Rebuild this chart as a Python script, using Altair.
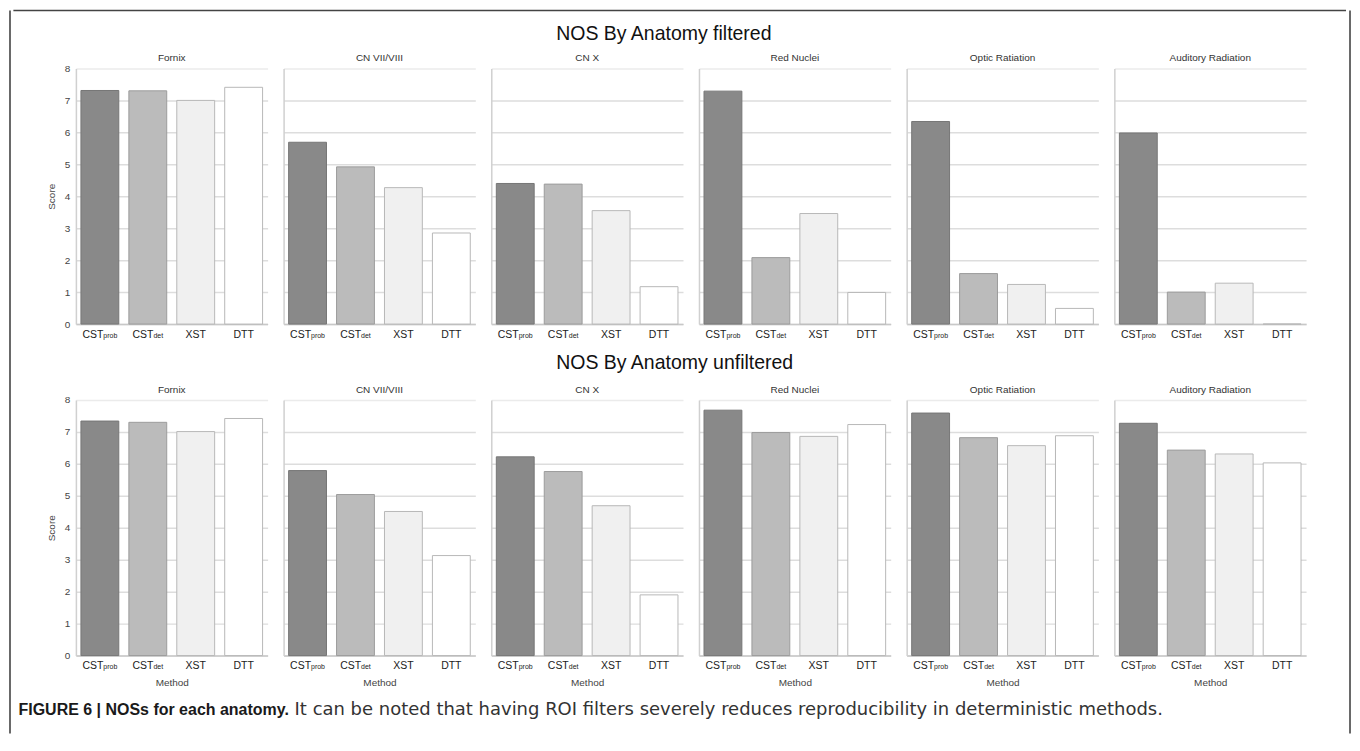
import altair as alt
import pandas as pd

# ---------------- data ----------------
anatomies = ["Fornix", "CN VII/VIII", "CN X", "Red Nuclei", "Optic Ratiation", "Auditory Radiation"]
methods = ["CSTprob", "CSTdet", "XST", "DTT"]
method_main = ["CST", "CST", "XST", "DTT"]
method_sub = ["prob", "det", "", ""]

filtered_cstprob = [7.31, 5.69, 4.40, 7.29, 6.34, 5.98]
filtered_cstdet = [7.30, 4.92, 4.38, 2.08, 1.58, 1.00]
filtered_xst = [7.00, 4.27, 3.55, 3.46, 1.24, 1.28]
filtered_dtt = [7.41, 2.85, 1.17, 0.99, 0.49, 0.00]

unfiltered_cstprob = [7.34, 5.79, 6.22, 7.68, 7.59, 7.27]
unfiltered_cstdet = [7.30, 5.04, 5.76, 6.98, 6.82, 6.43]
unfiltered_xst = [7.01, 4.51, 4.69, 6.86, 6.57, 6.31]
unfiltered_dtt = [7.42, 3.13, 1.90, 7.23, 6.88, 6.03]

conditions = ["filtered", "unfiltered"]
row_titles = ["NOS By Anatomy filtered", "NOS By Anatomy unfiltered"]
y_title = "Score"
x_title = "Method"
caption_bold = "FIGURE 6 | NOSs for each anatomy."
caption_text = "It can be noted that having ROI filters severely reduces reproducibility in deterministic methods."

series = {
    "filtered": [filtered_cstprob, filtered_cstdet, filtered_xst, filtered_dtt],
    "unfiltered": [unfiltered_cstprob, unfiltered_cstdet, unfiltered_xst, unfiltered_dtt],
}

rows = []
for cond in conditions:
    for mi, m in enumerate(methods):
        for ai, a in enumerate(anatomies):
            rows.append({"condition": cond, "anatomy": a, "method": m,
                         "main": method_main[mi], "sub": method_sub[mi],
                         "score": series[cond][mi][ai]})
df = pd.DataFrame(rows)
dummy = pd.DataFrame({"k": [0]})

# ---------------- style ----------------
FONT = "Liberation Sans"
fills = ["#898989", "#bbbbbb", "#f0f0f0", "#ffffff"]
strokes = ["#767676", "#9c9c9c", "#b8b8b8", "#b8b8b8"]
FRAME = "#444444"
PW, PH = 192, 256


def make_panel(cond, anat, first, bottom):
    base = alt.Chart(df).transform_filter(
        (alt.datum.condition == cond) & (alt.datum.anatomy == anat))

    xaxis = dict(labels=False, ticks=False, tickSize=0, domainColor="#c8c8c8",
                 domainWidth=1.5, grid=False)
    if bottom:
        xaxis.update(title=x_title, titlePadding=22, titleFontSize=10,
                     titleFontWeight="normal", titleColor="#444444", titleFont=FONT)
    else:
        xaxis.update(title=None)
    yaxis = dict(values=list(range(9)), ticks=False, tickSize=0,
                 domainColor="#d0d0d0", domainWidth=1.5,
                 gridColor=alt.condition("datum.value == 8", alt.value("#ebebeb"),
                                         alt.value("#dddddd")),
                 gridWidth=1.5, labels=first)
    if first:
        yaxis.update(title=y_title, titlePadding=8, labelPadding=6, labelFontSize=10,
                     labelColor="#444444", labelFont=FONT, titleFontSize=10,
                     titleFontWeight="normal", titleColor="#444444", titleFont=FONT)
    else:
        yaxis.update(title=None)

    xenc = alt.X("method:N", sort=methods,
                 scale=alt.Scale(domain=methods, paddingInner=0.21, paddingOuter=0.105),
                 axis=alt.Axis(**xaxis))
    yenc = alt.Y("score:Q", scale=alt.Scale(domain=[0, 8], nice=False),
                 axis=alt.Axis(**yaxis))

    bars = base.mark_bar(strokeWidth=1).encode(
        x=xenc, y=yenc,
        color=alt.Color("method:N", scale=alt.Scale(domain=methods, range=fills), legend=None),
        stroke=alt.Stroke("method:N", scale=alt.Scale(domain=methods, range=strokes), legend=None),
    )
    ylab = alt.value(PH + 13.5)
    common = dict(baseline="alphabetic", color="#222222", font=FONT)
    lab_plain = base.transform_filter(alt.datum.sub == "").mark_text(
        fontSize=10.5, align="center", **common).encode(x=xenc, y=ylab, text="main:N")
    layers = [bars, lab_plain]
    for m, d in (("CSTprob", 3.5), ("CSTdet", 5.6)):
        layers.append(base.transform_filter(alt.datum.method == m).mark_text(
            fontSize=10.5, align="right", dx=d, **common).encode(x=xenc, y=ylab, text="main:N"))
        layers.append(base.transform_filter(alt.datum.method == m).mark_text(
            fontSize=7, align="left", dx=d, **common).encode(x=xenc, y=ylab, text="sub:N"))
    return alt.layer(*layers).properties(
        width=PW, height=PH,
        title=alt.TitleParams(anat, fontSize=10, fontWeight="normal", color="#333333",
                              offset=0 if first else 5, anchor="middle", frame="group",
                              font=FONT))


def make_row(ci):
    cond = conditions[ci]
    panels = [make_panel(cond, a, i == 0, ci == 1) for i, a in enumerate(anatomies)]
    return alt.hconcat(*panels, spacing=14).properties(
        title=alt.TitleParams(row_titles[ci], fontSize=19.5, fontWeight="normal",
                              color="#111111", anchor="start", frame="group", dx=481,
                              offset=8 if ci == 0 else 11, font=FONT))


# frame pieces (pixel offsets relative to the first panel's plot origin)
topline = alt.Chart(dummy).mark_rule(color=FRAME, strokeWidth=1.6).encode(
    x=alt.value(-62.6), x2=alt.value(1272), y=alt.value(0)).properties(width=1, height=1)

caption = alt.layer(
    alt.Chart(dummy).mark_text(text=caption_bold, font=FONT, fontSize=16, fontWeight="bold",
                               align="left", baseline="middle", color="#1a1a1a").encode(
        x=alt.value(-57.5), y=alt.value(8)),
    alt.Chart(dummy).mark_text(text=caption_text, font="DejaVu Sans", fontSize=18,
                               align="left", baseline="middle", color="#333333").encode(
        x=alt.value(219), y=alt.value(8)),
).properties(width=1, height=1)

middle = alt.vconcat(topline, make_row(0), make_row(1), caption, spacing=12)

H = 724
leftline = alt.Chart(dummy).mark_rule(color=FRAME, strokeWidth=1.6).encode(
    x=alt.value(0), y=alt.value(0), y2=alt.value(H)).properties(width=1, height=H)
rightline = alt.Chart(dummy).mark_rule(color=FRAME, strokeWidth=1.6).encode(
    x=alt.value(0), y=alt.value(0), y2=alt.value(H)).properties(width=1, height=H)

chart = alt.hconcat(leftline, middle, rightline, spacing=0).properties(
    padding=0, background="white"
).configure(font=FONT).configure_view(stroke="transparent")

chart.save("out.html", embed_options={"renderer": "svg", "actions": False})
